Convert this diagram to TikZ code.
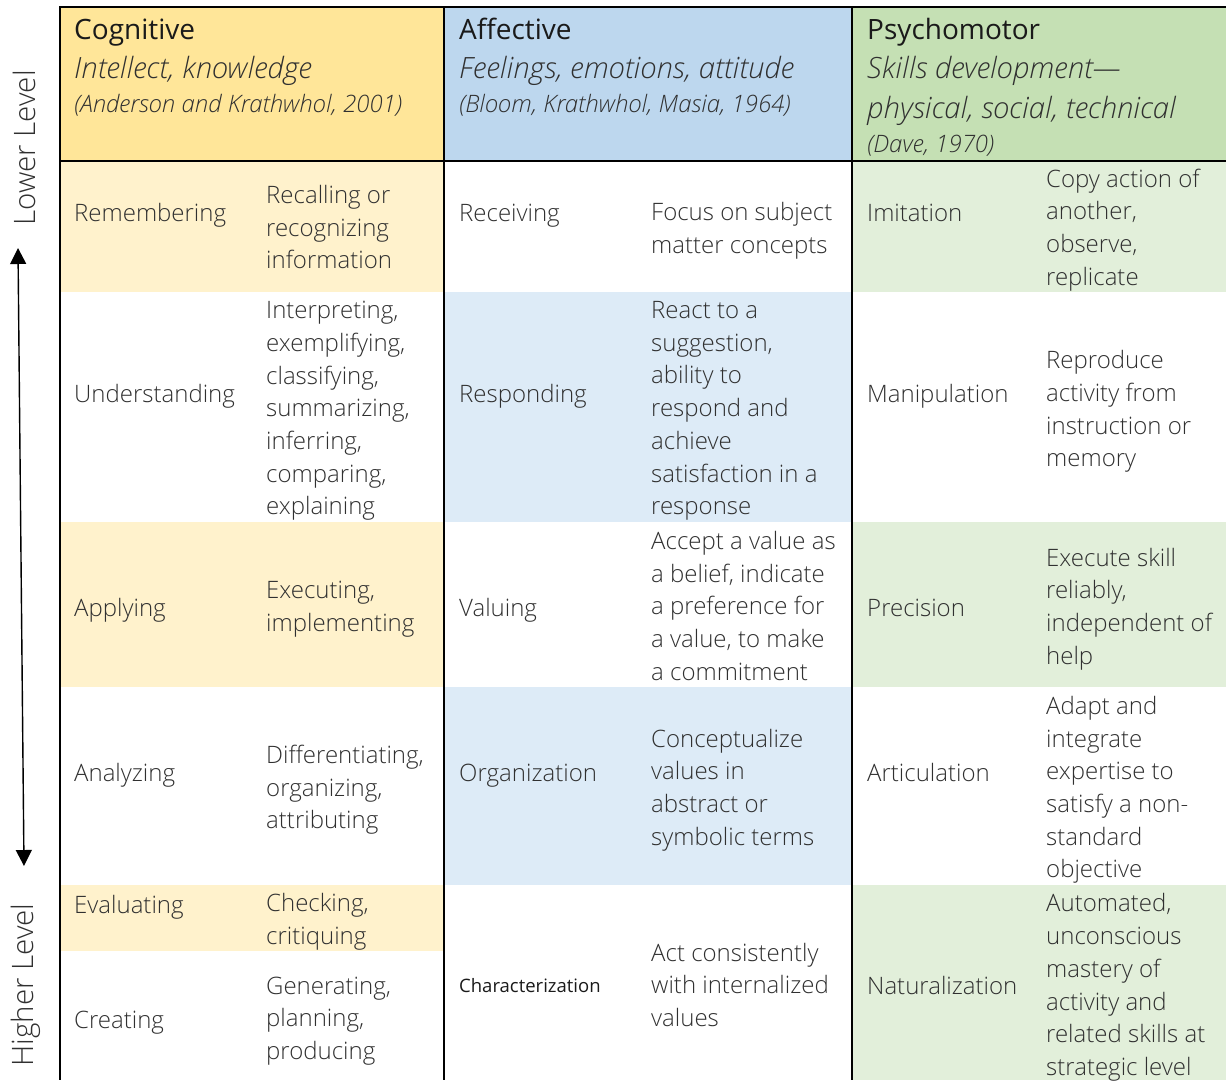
\documentclass[tikz,border=0pt]{standalone}
\usepackage{fontspec}
\setmainfont{Open Sans Light}[ItalicFont={Open Sans Light Italic}]
\newfontfamily\regfont{Open Sans}
\usetikzlibrary{arrows.meta}
\definecolor{cogH}{HTML}{FFE699}
\definecolor{cogL}{HTML}{FFF2CC}
\definecolor{affH}{HTML}{BDD7EE}
\definecolor{affL}{HTML}{DDEBF7}
\definecolor{psyH}{HTML}{C5E0B4}
\definecolor{psyL}{HTML}{E2EFDA}
\definecolor{txt}{HTML}{303030}
\definecolor{ttl}{HTML}{1A1A1A}
\begin{document}
\begin{tikzpicture}[x=1pt,y=-1pt,
  cell/.style={anchor=west, align=left, inner sep=0pt, text=txt, yshift=-4pt,
    font=\fontsize{24}{32.7}\selectfont,
    execute at begin node=\strut, execute at end node=\strut},
  title/.style={anchor=base west, inner sep=0pt, text=ttl, font=\regfont\fontsize{28}{34}\selectfont},
  subtitle/.style={anchor=base west, inner sep=0pt, text=txt, font=\fontsize{29.3}{34}\selectfont\itshape},
  cite/.style={anchor=base west, inner sep=0pt, text=txt, font=\fontsize{24}{28}\selectfont\itshape},
  level/.style={rotate=90, inner sep=0pt, text=txt, font=\fontsize{29.5}{34}\selectfont},
  grid/.style={line width=2.2pt, black},
  levelarrow/.style={line width=1.4pt, {Triangle[width=16pt,length=16pt]}-{Triangle[width=16pt,length=16pt]}}
]
\useasboundingbox (0,0) rectangle (1226,1080);
% header fills
\fill[cogH] (60,7) rectangle (444,161);
\fill[affH] (444,7) rectangle (852,161);
\fill[psyH] (852,7) rectangle (1226,161);
% cognitive rows
\fill[cogL] (60,161) rectangle (444,292);
\fill[cogL] (60,522) rectangle (444,687);
\fill[cogL] (60,885) rectangle (444,951);
% affective rows
\fill[affL] (444,292) rectangle (852,522);
\fill[affL] (444,687) rectangle (852,885);
% psychomotor rows
\fill[psyL] (852,161) rectangle (1226,292);
\fill[psyL] (852,522) rectangle (1226,687);
\fill[psyL] (852,885) rectangle (1226,1080);
% grid
\draw[grid] (1226,7) -- (60,7) -- (60,1080);
\draw[grid] (444,7) -- (444,1080);
\draw[grid] (852,7) -- (852,1080);
\draw[grid] (60,161) -- (1226,161);

% headers
\node[title] (cogT) at (74,39) {Cognitive};
\node[subtitle] (cogS) at (74,78.5) {Intellect, knowledge};
\node[cite] (cogC) at (74,112.5) {(Anderson and Krathwhol, 2001)};
\node[title] (affT) at (459,39) {Affective};
\node[subtitle] (affS) at (459,78.5) {Feelings, emotions, attitude};
\node[cite] (affC) at (459,112.5) {(Bloom, Krathwhol, Masia, 1964)};
\node[title] (psyT) at (867,39) {Psychomotor};
\node[subtitle] (psyS) at (867,78.5) {Skills development—};
\node[subtitle] (psyS2) at (867,118.5) {physical, social, technical};
\node[cite] (psyC) at (867,152.5) {(Dave, 1970)};

% row 1
\node[cell] (r1a) at (74,211) {Remembering};
\node[cell] (r1b) at (266,228) {Recalling or\\recognizing\\information};
\node[cell] (r1c) at (459,211) {Receiving};
\node[cell] (r1d) at (651,228.5) {Focus on subject\\matter concepts};
\node[cell] (r1e) at (867,211) {Imitation};
\node[cell] (r1f) at (1046,228) {Copy action of\\another,\\observe,\\replicate};
% row 2
\node[cell] (r2a) at (74,392) {Understanding};
\node[cell] (r2b) at (266,409) {Interpreting,\\exemplifying,\\classifying,\\summarizing,\\inferring,\\comparing,\\explaining};
\node[cell] (r2c) at (459,392) {Responding};
\node[cell] (r2d) at (651,409) {React to a\\suggestion,\\ability to\\respond and\\achieve\\satisfaction in a\\response};
\node[cell] (r2e) at (867,392) {Manipulation};
\node[cell] (r2f) at (1046,409.5) {Reproduce\\activity from\\instruction or\\memory};
% row 3
\node[cell] (r3a) at (74,606) {Applying};
\node[cell] (r3b) at (266,607) {Executing,\\implementing};
\node[cell] (r3c) at (459,606) {Valuing};
\node[cell] (r3d) at (651,606.5) {Accept a value as\\a belief, indicate\\a preference for\\a value, to make\\a commitment};
\node[cell] (r3e) at (867,606) {Precision};
\node[cell] (r3f) at (1046,607) {Execute skill\\reliably,\\independent of\\help};
% row 4
\node[cell] (r4a) at (74,771) {Analyzing};
\node[cell] (r4b) at (266,788) {Differentiating,\\organizing,\\attributing};
\node[cell] (r4c) at (459,771) {Organization};
\node[cell] (r4d) at (651,788) {Conceptualize\\values in\\abstract or\\symbolic terms};
\node[cell] (r4e) at (867,771) {Articulation};
\node[cell] (r4f) at (1046,788) {Adapt and\\integrate\\expertise to\\satisfy a non-\\standard\\objective};
% row 5
\node[cell] (r5a) at (74,903) {Evaluating};
\node[cell] (r5b) at (266,920) {Checking,\\critiquing};
\node[cell] (r6a) at (74,1018) {Creating};
\node[cell] (r6b) at (266,1019) {Generating,\\planning,\\producing};
\node[cell, font=\regfont\fontsize{18.5}{22}\selectfont, text=ttl] (r5c) at (459,984) {Characterization};
\node[cell] (r5d) at (651,985.5) {Act consistently\\with internalized\\values};
\node[cell] (r5e) at (867,984) {Naturalization};
\node[cell] (r5f) at (1046,985.5) {Automated,\\unconscious\\mastery of\\activity and\\related skills at\\strategic level};

% level axis
\node[level] (lower) at (24,148) {Lower Level};
\node[level] (higher) at (26,985) {Higher Level};
\coordinate (arrTop) at (18,248);
\coordinate (arrBot) at (24,866);
\draw[levelarrow] (arrTop) -- (arrBot);
\end{tikzpicture}
\end{document}
